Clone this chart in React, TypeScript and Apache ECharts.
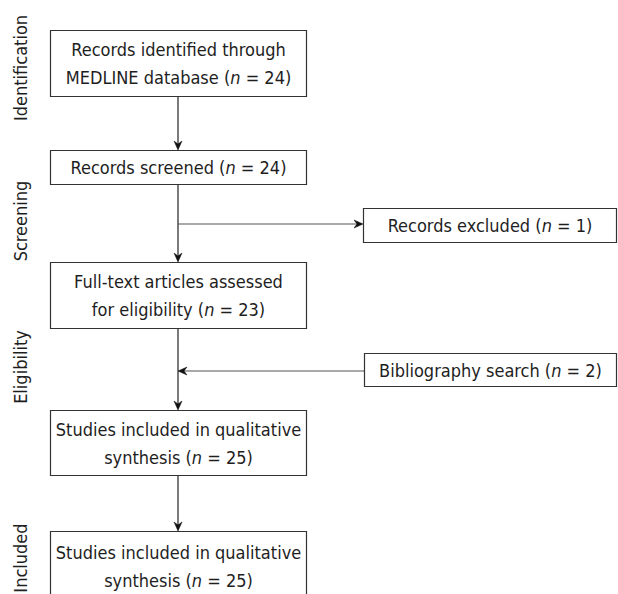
import React, { useEffect, useRef } from "react";
import * as echarts from "echarts";

// ---- data ----
const phases = ["Identification", "Screening", "Eligibility", "Included"];
const boxTexts = [
  ["Records identified through", "MEDLINE database"],
  ["Records screened"],
  ["Records excluded"],
  ["Full-text articles assessed", "for eligibility"],
  ["Bibliography search"],
  ["Studies included in qualitative", "synthesis"],
  ["Studies included in qualitative", "synthesis"],
];
const boxCounts = [24, 24, 1, 23, 2, 25, 25];

// ---- layout (pixels in a 618 x 594 frame) ----
const boxRects = [
  [50, 30, 307, 97],
  [50, 150, 307, 185],
  [363, 208, 617, 243],
  [50, 262, 307, 329],
  [364, 353, 617, 387],
  [50, 410, 307, 476],
  [50, 531, 307, 601],
];
const arrows = [
  [178, 97, 178, 150],
  [178, 185, 178, 262],
  [178, 224, 363, 224],
  [178, 329, 178, 410],
  [364, 371, 178, 371],
  [178, 476, 178, 531],
];
const phasePos = [
  [20, 68],
  [20, 221],
  [20, 367],
  [20, 558],
];

const FONT = "DejaVu Sans Condensed";
const FS = 18;
const TXT = "#1e1e1e";

function boxLabel(i: number) {
  const lines = boxTexts[i];
  return lines
    .map((l, k) =>
      k === lines.length - 1
        ? `{t|${l} (}{i|n}{t| = ${boxCounts[i]})}`
        : `{t|${l}}`
    )
    .join("\n");
}

export default function App() {
  const ref = useRef<HTMLDivElement>(null);
  useEffect(() => {
    document.body.style.margin = "0";
    const chart = echarts.init(ref.current!, null, { renderer: "svg" });
    const rich = {
      t: { fontFamily: FONT, fontSize: FS, fill: TXT, lineHeight: 28 },
      i: { fontFamily: FONT, fontSize: FS, fontStyle: "italic", fill: TXT, lineHeight: 28 },
    };
    chart.setOption({
      animation: false,
      grid: { left: 0, right: 0, top: 0, bottom: 0 },
      xAxis: { type: "value", min: 0, max: 618, show: false },
      yAxis: { type: "value", min: 0, max: 594, inverse: true, show: false },
      series: [
        {
          type: "custom",
          clip: false,
          silent: true,
          encode: { x: [0, 2], y: [1, 3] },
          data: arrows,
          renderItem: (params: any, api: any) => {
            const p1 = api.coord([api.value(0), api.value(1)]);
            const p2 = api.coord([api.value(2), api.value(3)]);
            const dx = p2[0] - p1[0];
            const dy = p2[1] - p1[1];
            const len = Math.hypot(dx, dy);
            const ux = dx / len;
            const uy = dy / len;
            const px = -uy;
            const py = ux;
            const L = 9;
            const W = 4;
            const N = 6;
            const tip = p2;
            const b1 = [tip[0] - ux * L + px * W, tip[1] - uy * L + py * W];
            const b2 = [tip[0] - ux * L - px * W, tip[1] - uy * L - py * W];
            const notch = [tip[0] - ux * N, tip[1] - uy * N];
            const horiz = Math.abs(dy) < 1;
            const color = horiz ? "#555" : "#222";
            return {
              type: "group",
              children: [
                {
                  type: "line",
                  shape: { x1: p1[0], y1: p1[1], x2: notch[0], y2: notch[1] },
                  style: { stroke: color, lineWidth: 1.2 },
                },
                {
                  type: "polygon",
                  shape: { points: [tip, b1, notch, b2] },
                  style: { fill: "#111", stroke: "#111", lineWidth: 0.5 },
                },
              ],
            };
          },
        },
        {
          type: "custom",
          clip: false,
          silent: true,
          encode: { x: [0, 2], y: [1, 3] },
          data: boxRects,
          renderItem: (params: any, api: any) => {
            const a = api.coord([api.value(0), api.value(1)]);
            const b = api.coord([api.value(2), api.value(3)]);
            const i = params.dataIndex;
            return {
              type: "group",
              children: [
                {
                  type: "rect",
                  shape: { x: a[0] + 0.5, y: a[1] + 0.5, width: b[0] - a[0] - 1, height: b[1] - a[1] - 1 },
                  style: { fill: "#fff", stroke: "#333", lineWidth: 1.2 },
                },
                {
                  type: "text",
                  style: {
                    text: boxLabel(i),
                    rich,
                    x: (a[0] + b[0]) / 2,
                    y: (a[1] + b[1]) / 2,
                    align: "center",
                    verticalAlign: "middle",
                    fontFamily: FONT,
                    fontSize: FS,
                    fill: TXT,
                  },
                },
              ],
            };
          },
        },
        {
          type: "custom",
          clip: false,
          silent: true,
          encode: { x: 0, y: 1 },
          data: phasePos,
          renderItem: (params: any, api: any) => {
            const p = api.coord([api.value(0), api.value(1)]);
            return {
              type: "text",
              x: p[0],
              y: p[1],
              rotation: Math.PI / 2,
              style: {
                text: phases[params.dataIndex],
                x: 0,
                y: 0,
                align: "center",
                verticalAlign: "middle",
                fontFamily: FONT,
                fontSize: FS,
                fill: TXT,
              },
            };
          },
        },
      ],
    });
    return () => chart.dispose();
  }, []);
  return <div ref={ref} style={{ width: 618, height: 594, background: "#fff" }} />;
}
